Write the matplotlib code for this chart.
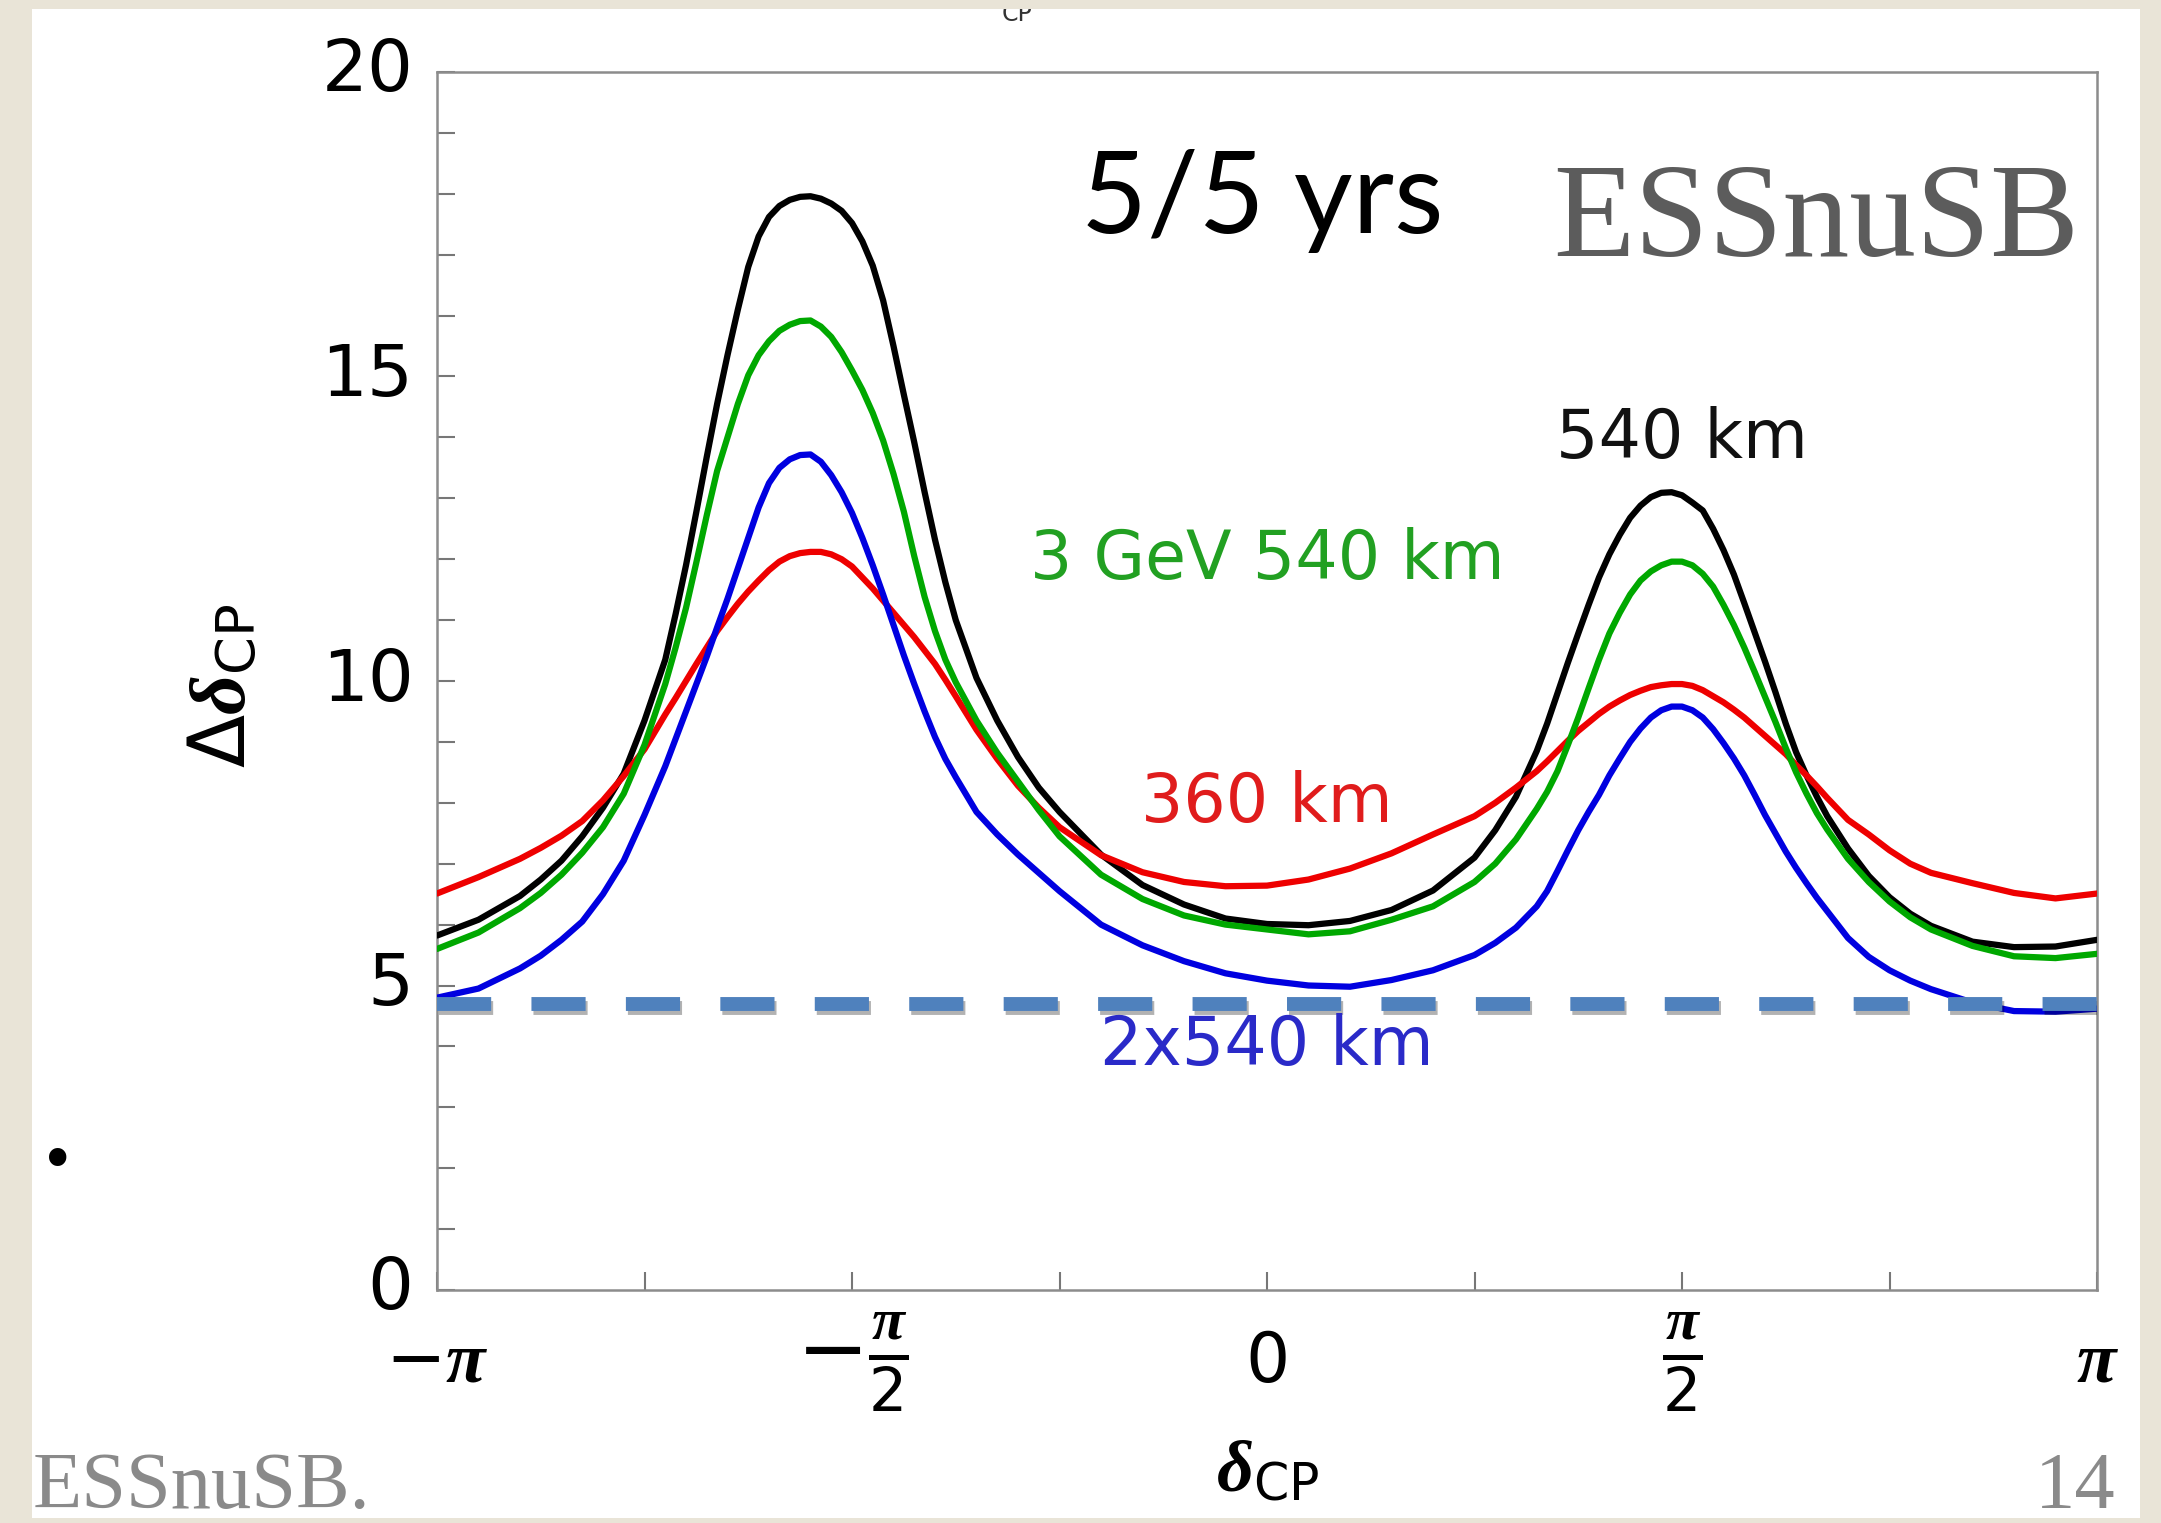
import numpy as np
import matplotlib
matplotlib.use("Agg")
import matplotlib.pyplot as plt
import matplotlib.patheffects as pe
from matplotlib.patches import Rectangle
from matplotlib.ticker import FixedLocator, MultipleLocator

W, H = 2161, 1523
DPI = 100

# delta_CP sample points, in units of pi (denser around the peaks)
delta_over_pi = np.concatenate([
    [-1.0, -0.95, -0.9, -0.875, -0.85, -0.825, -0.8, -0.775, -0.75],
    np.linspace(-0.725, -0.375, 29),
    [-0.35, -0.325, -0.3, -0.275, -0.25, -0.2, -0.15, -0.1, -0.05, 0.0,
     0.05, 0.1, 0.15, 0.2, 0.25, 0.275, 0.3],
    np.linspace(0.325, 0.675, 29),
    [0.7, 0.725, 0.75, 0.775, 0.8, 0.85, 0.9, 0.95, 1.0],
])

# precision on delta_CP (degrees)
dcp_540 = [5.82, 6.08, 6.47, 6.74, 7.05, 7.45, 7.92, 8.48, 9.35,
           10.35, 11.10, 11.90, 12.78, 13.68, 14.55, 15.35, 16.10, 16.80, 17.30,
           17.62, 17.80, 17.90, 17.95, 17.96, 17.92, 17.84, 17.72, 17.52, 17.22,
           16.82, 16.25, 15.50, 14.70, 13.92, 13.10, 12.32, 11.62, 11.00,
           10.05, 9.35, 8.75, 8.25, 7.85, 7.15, 6.65, 6.33, 6.10, 6.01,
           5.99, 6.06, 6.24, 6.56, 7.10, 7.55, 8.10,
           8.85, 9.30, 9.80, 10.30, 10.78, 11.25, 11.70, 12.08, 12.40, 12.68,
           12.88, 13.02, 13.09, 13.10, 13.05, 12.93, 12.80, 12.50, 12.15, 11.75,
           11.28, 10.80, 10.32, 9.82, 9.30, 8.83, 8.45, 8.10, 7.78,
           7.25, 6.80, 6.45, 6.18, 5.98, 5.72, 5.63, 5.64, 5.75]
dcp_3gev_540 = [5.60, 5.87, 6.27, 6.52, 6.82, 7.18, 7.60, 8.15, 8.95,
                9.95, 10.55, 11.20, 11.95, 12.72, 13.45, 14.00, 14.55, 15.02, 15.35,
                15.58, 15.75, 15.85, 15.91, 15.92, 15.82, 15.65, 15.40, 15.10, 14.78,
                14.40, 13.95, 13.40, 12.78, 12.05, 11.38, 10.82, 10.35, 9.98,
                9.35, 8.82, 8.35, 7.88, 7.45, 6.82, 6.42, 6.15, 6.00, 5.92,
                5.84, 5.89, 6.08, 6.30, 6.70, 7.00, 7.40,
                7.90, 8.18, 8.52, 8.95, 9.40, 9.88, 10.35, 10.78, 11.12, 11.42,
                11.65, 11.80, 11.90, 11.96, 11.96, 11.90, 11.76, 11.55, 11.25, 10.92,
                10.55, 10.15, 9.74, 9.33, 8.90, 8.50, 8.15, 7.83, 7.56,
                7.08, 6.70, 6.38, 6.12, 5.92, 5.65, 5.48, 5.45, 5.52]
dcp_360 = [6.51, 6.78, 7.08, 7.26, 7.46, 7.70, 8.04, 8.44, 8.88,
           9.45, 9.72, 10.00, 10.28, 10.55, 10.82, 11.05, 11.27, 11.47, 11.65,
           11.82, 11.96, 12.05, 12.10, 12.12, 12.12, 12.08, 12.00, 11.88, 11.70,
           11.52, 11.32, 11.12, 10.92, 10.72, 10.50, 10.28, 10.02, 9.75,
           9.20, 8.72, 8.28, 7.92, 7.60, 7.14, 6.86, 6.70, 6.63, 6.64,
           6.74, 6.92, 7.17, 7.48, 7.78, 8.00, 8.25,
           8.52, 8.68, 8.85, 9.02, 9.18, 9.32, 9.46, 9.58, 9.68, 9.77,
           9.84, 9.90, 9.93, 9.95, 9.95, 9.92, 9.85, 9.75, 9.65, 9.53,
           9.40, 9.25, 9.10, 8.95, 8.80, 8.62, 8.45, 8.27, 8.08,
           7.72, 7.48, 7.22, 7.00, 6.85, 6.68, 6.52, 6.43, 6.51]
dcp_2x540 = [4.80, 4.95, 5.28, 5.49, 5.75, 6.05, 6.50, 7.05, 7.80,
             8.60, 9.05, 9.50, 9.95, 10.40, 10.88, 11.35, 11.85, 12.35, 12.85,
             13.25, 13.50, 13.64, 13.71, 13.72, 13.60, 13.38, 13.10, 12.76, 12.35,
             11.90, 11.42, 10.92, 10.42, 9.95, 9.50, 9.08, 8.72, 8.42,
             7.85, 7.48, 7.15, 6.85, 6.55, 6.00, 5.66, 5.40, 5.20, 5.08,
             5.00, 4.98, 5.09, 5.25, 5.50, 5.70, 5.95,
             6.30, 6.55, 6.88, 7.22, 7.55, 7.85, 8.13, 8.45, 8.73, 9.00,
             9.22, 9.40, 9.52, 9.58, 9.58, 9.52, 9.40, 9.21, 8.98, 8.73,
             8.45, 8.13, 7.80, 7.50, 7.20, 6.93, 6.68, 6.44, 6.22,
             5.78, 5.47, 5.25, 5.08, 4.94, 4.72, 4.58, 4.57, 4.62]
threshold = 4.7

curve_labels = ["540 km", "3 GeV 540 km", "360 km", "2x540 km"]
label_pos_over_pi = [0.5, 0.0, 0.0, 0.0]
label_pos_y = [13.66, 11.68, 7.68, 3.70]
xtick_labels = [r"$-\pi$", r"$-\frac{\pi}{2}$", "0", r"$\frac{\pi}{2}$", r"$\pi$"]
ytick_values = [0, 5, 10, 15, 20]

plt.rcParams["font.family"] = ["DejaVu Sans"]
plt.rcParams["mathtext.fontset"] = "custom"
plt.rcParams["mathtext.rm"] = "DejaVu Sans"
plt.rcParams["mathtext.it"] = "Liberation Serif:italic:bold"
plt.rcParams["mathtext.bf"] = "DejaVu Sans:bold"


def fig_xy(px, py):
    """Pixel position (from top left) to figure fraction."""
    return px / W, 1 - py / H


fig = plt.figure(figsize=(W / DPI, H / DPI), dpi=DPI, facecolor="white")
ax = fig.add_axes([437 / W, 1 - 1290 / H, 1660 / W, 1218 / H])

x = np.asarray(delta_over_pi) * np.pi
line_kw = dict(lw=4.5, zorder=3, solid_joinstyle="round", solid_capstyle="round")
ax.plot(x, dcp_540, color="black", **line_kw)
ax.plot(x, dcp_360, color="#ee0000", **line_kw)
ax.plot(x, dcp_2x540, color="#0000e0", **line_kw)
ax.plot(x, dcp_3gev_540, color="#00a800", **line_kw)
ax.axhline(threshold, color="#4f81bd", lw=10, dashes=(3.9, 2.9), zorder=4,
           path_effects=[pe.SimpleLineShadow(offset=(1.5, -3), alpha=0.3), pe.Normal()])

label_colors = ["#111111", "#22a022", "#e01c1c", "#2a2ac8"]
for txt, lx, ly, c in zip(curve_labels, label_pos_over_pi, label_pos_y, label_colors):
    ax.text(lx * np.pi, ly, txt, color=c, fontsize=48, ha="center", va="baseline", zorder=5)

ax.set_xlim(-np.pi, np.pi)
ax.set_ylim(0, 20)
ax.xaxis.set_major_locator(FixedLocator(np.arange(-2, 3) * np.pi / 2))
ax.xaxis.set_minor_locator(FixedLocator(np.arange(-4, 5) * np.pi / 4))
ax.set_xticklabels(xtick_labels)
ax.yaxis.set_major_locator(FixedLocator(ytick_values))
ax.yaxis.set_minor_locator(MultipleLocator(1))
ax.tick_params(which="both", direction="in", length=13, width=1.5, color="#777777",
               top=False, right=False)
ax.tick_params(axis="y", labelsize=52, pad=17)
ax.tick_params(axis="x", labelsize=50, pad=52)
for lab in ax.get_yticklabels():
    lab.set_verticalalignment("center")
for lab in ax.get_xticklabels():
    lab.set_verticalalignment("center")
    if "frac" in lab.get_text():
        lab.set_fontsize(62)
    elif "pi" in lab.get_text():
        lab.set_fontsize(52)
for s in ax.spines.values():
    s.set_color("#8c8c8c")
    s.set_linewidth(1.8)

ax.set_ylabel(r"$\Delta\delta_{\rm CP}$", fontsize=56, va="center")
ax.yaxis.set_label_coords(-0.128, 0.496)
ax.set_xlabel(r"$\delta_{\rm CP}$", fontsize=52, va="top")
ax.xaxis.set_label_coords(0.5006, -0.121)

# remnant of a title cut off at the top edge
fig.text(*fig_xy(1017, 21), "CP", fontsize=17, color="#333333", ha="center", va="baseline")

# slide overlay
fig.text(*fig_xy(1262, 233), "5/5 yrs", fontfamily="Lato", fontsize=82, ha="center",
         va="baseline", zorder=6)
fig.text(*fig_xy(1553, 256), "ESSnuSB", fontfamily="Liberation Serif", fontsize=96,
         color="#5c5c5c", ha="left", va="baseline", zorder=6)
fig.text(*fig_xy(58, 1164), "\u2022", fontsize=43, ha="center", va="center", zorder=6)

BEIGE = "#e9e4d7"
for x0, y0, x1, y1 in [(0, 0, 32, H), (0, 0, W, 9), (2140, 0, W, H), (0, 1518, W, H)]:
    fig.add_artist(Rectangle(fig_xy(x0, y1), (x1 - x0) / W, (y1 - y0) / H,
                             transform=fig.transFigure, facecolor=BEIGE,
                             edgecolor="none", zorder=10))

fig.text(*fig_xy(33, 1508), "ESSnuSB.", fontfamily="Liberation Serif", fontsize=58,
         color="#8a8a8a", ha="left", va="baseline", zorder=11)
fig.text(*fig_xy(2115, 1508), "14", fontfamily="Liberation Serif", fontsize=58,
         color="#8a8a8a", ha="right", va="baseline", zorder=11)

fig.savefig("out.png", dpi=DPI, facecolor=fig.get_facecolor())
